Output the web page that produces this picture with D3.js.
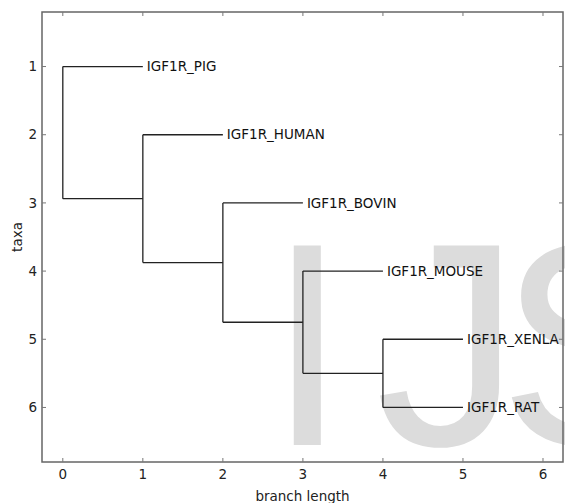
<!DOCTYPE html>
<html>
<head>
<meta charset="utf-8">
<script src="https://cdn.jsdelivr.net/npm/d3@7"></script>
<style>
  body { margin: 0; background: #fff; }
  text { font-family: "DejaVu Sans", sans-serif; }
</style>
</head>
<body>
<div id="chart"></div>
<script>
// tree data: each node with its parent and branch length
const nodeIds = ["root", "IGF1R_PIG", "c1", "IGF1R_HUMAN", "c2", "IGF1R_BOVIN",
  "c3", "IGF1R_MOUSE", "c4", "IGF1R_XENLA", "IGF1R_RAT"];
const nodeParents = [null, "root", "root", "c1", "c1", "c2", "c2", "c3", "c3", "c4", "c4"];
const branchLengths = [0, 1, 1, 1, 1, 1, 1, 1, 1, 1, 1];

const xTicks = [0, 1, 2, 3, 4, 5, 6];
const yTicks = [1, 2, 3, 4, 5, 6];
const xDomain = [-0.26, 6.25];
const yDomain = [0.2, 6.8];

const width = 565;
const height = 503;
const margin = { top: 12, right: 2, bottom: 41, left: 42 };

const svg = d3.select("#chart")
  .append("svg")
  .attr("width", width)
  .attr("height", height);

const x = d3.scaleLinear()
  .domain(xDomain)
  .range([margin.left, width - margin.right]);

const y = d3.scaleLinear()
  .domain(yDomain)
  .range([margin.top, height - margin.bottom]);

// watermark behind the plot
const mark = svg.append("text")
  .attr("x", 267)
  .attr("y", 445)
  .attr("fill", "#dcdcdc")
  .style("font-family", "'Liberation Sans', Arial, sans-serif")
  .style("font-size", "290px");
mark.append("tspan").text("I");
mark.append("tspan").attr("dx", 28).text("J");
mark.append("tspan").attr("dx", -22).text("S");

// build the tree
const table = nodeIds.map((id, i) => ({ id, parent: nodeParents[i], length: branchLengths[i] }));
const root = d3.stratify().id(d => d.id).parentId(d => d.parent)(table);

root.eachBefore(n => {
  n.bx = (n.parent ? n.parent.bx : 0) + n.data.length;
});
let leafIndex = 0;
root.eachBefore(n => {
  if (!n.children) n.by = ++leafIndex;
});
root.eachAfter(n => {
  if (n.children) {
    n.by = (n.children[0].by + n.children[n.children.length - 1].by) / 2;
  }
});

const plot = svg.append("g");

// horizontal branches
plot.selectAll(".hbranch")
  .data(root.descendants().filter(n => n.parent))
  .enter()
  .append("line")
  .attr("x1", d => x(d.parent.bx))
  .attr("x2", d => x(d.bx))
  .attr("y1", d => y(d.by))
  .attr("y2", d => y(d.by))
  .attr("stroke", "#222")
  .attr("stroke-width", 1.3);

// vertical connectors
plot.selectAll(".vbranch")
  .data(root.descendants().filter(n => n.children))
  .enter()
  .append("line")
  .attr("x1", d => x(d.bx))
  .attr("x2", d => x(d.bx))
  .attr("y1", d => y(d.children[0].by))
  .attr("y2", d => y(d.children[d.children.length - 1].by))
  .attr("stroke", "#222")
  .attr("stroke-width", 1.3);

// leaf labels
plot.selectAll(".leaf")
  .data(root.leaves())
  .enter()
  .append("text")
  .attr("x", d => x(d.bx) + 4)
  .attr("y", d => y(d.by))
  .attr("dy", "0.35em")
  .attr("fill", "#111")
  .style("font-size", "13.5px")
  .text(d => d.id);

// frame
svg.append("rect")
  .attr("x", margin.left)
  .attr("y", margin.top)
  .attr("width", width - margin.right - margin.left)
  .attr("height", height - margin.bottom - margin.top)
  .attr("fill", "none")
  .attr("stroke", "#666")
  .attr("stroke-width", 1.5);

// ticks, pointing inward on all sides
const tickLen = 4;
const tickColor = "#777";
xTicks.forEach(t => {
  svg.append("line")
    .attr("x1", x(t)).attr("x2", x(t))
    .attr("y1", height - margin.bottom).attr("y2", height - margin.bottom - tickLen)
    .attr("stroke", tickColor);
  svg.append("line")
    .attr("x1", x(t)).attr("x2", x(t))
    .attr("y1", margin.top).attr("y2", margin.top + tickLen)
    .attr("stroke", tickColor);
  svg.append("text")
    .attr("x", x(t))
    .attr("y", height - margin.bottom + 12)
    .attr("dy", "0.35em")
    .attr("text-anchor", "middle")
    .attr("fill", "#222")
    .style("font-size", "13.5px")
    .text(t);
});
yTicks.forEach(t => {
  svg.append("line")
    .attr("x1", margin.left).attr("x2", margin.left + tickLen)
    .attr("y1", y(t)).attr("y2", y(t))
    .attr("stroke", tickColor);
  svg.append("line")
    .attr("x1", width - margin.right).attr("x2", width - margin.right - tickLen)
    .attr("y1", y(t)).attr("y2", y(t))
    .attr("stroke", tickColor);
  svg.append("text")
    .attr("x", margin.left - 5)
    .attr("y", y(t))
    .attr("dy", "0.35em")
    .attr("text-anchor", "end")
    .attr("fill", "#222")
    .style("font-size", "13.5px")
    .text(t);
});

// axis titles
svg.append("text")
  .attr("x", (margin.left + width - margin.right) / 2)
  .attr("y", 496)
  .attr("dy", "0.35em")
  .attr("text-anchor", "middle")
  .attr("fill", "#222")
  .style("font-size", "13.5px")
  .text("branch length");

svg.append("text")
  .attr("transform", `translate(17, ${(margin.top + height - margin.bottom) / 2}) rotate(-90)`)
  .attr("dy", "0.35em")
  .attr("text-anchor", "middle")
  .attr("fill", "#222")
  .style("font-size", "13.5px")
  .text("taxa");
</script>
</body>
</html>
